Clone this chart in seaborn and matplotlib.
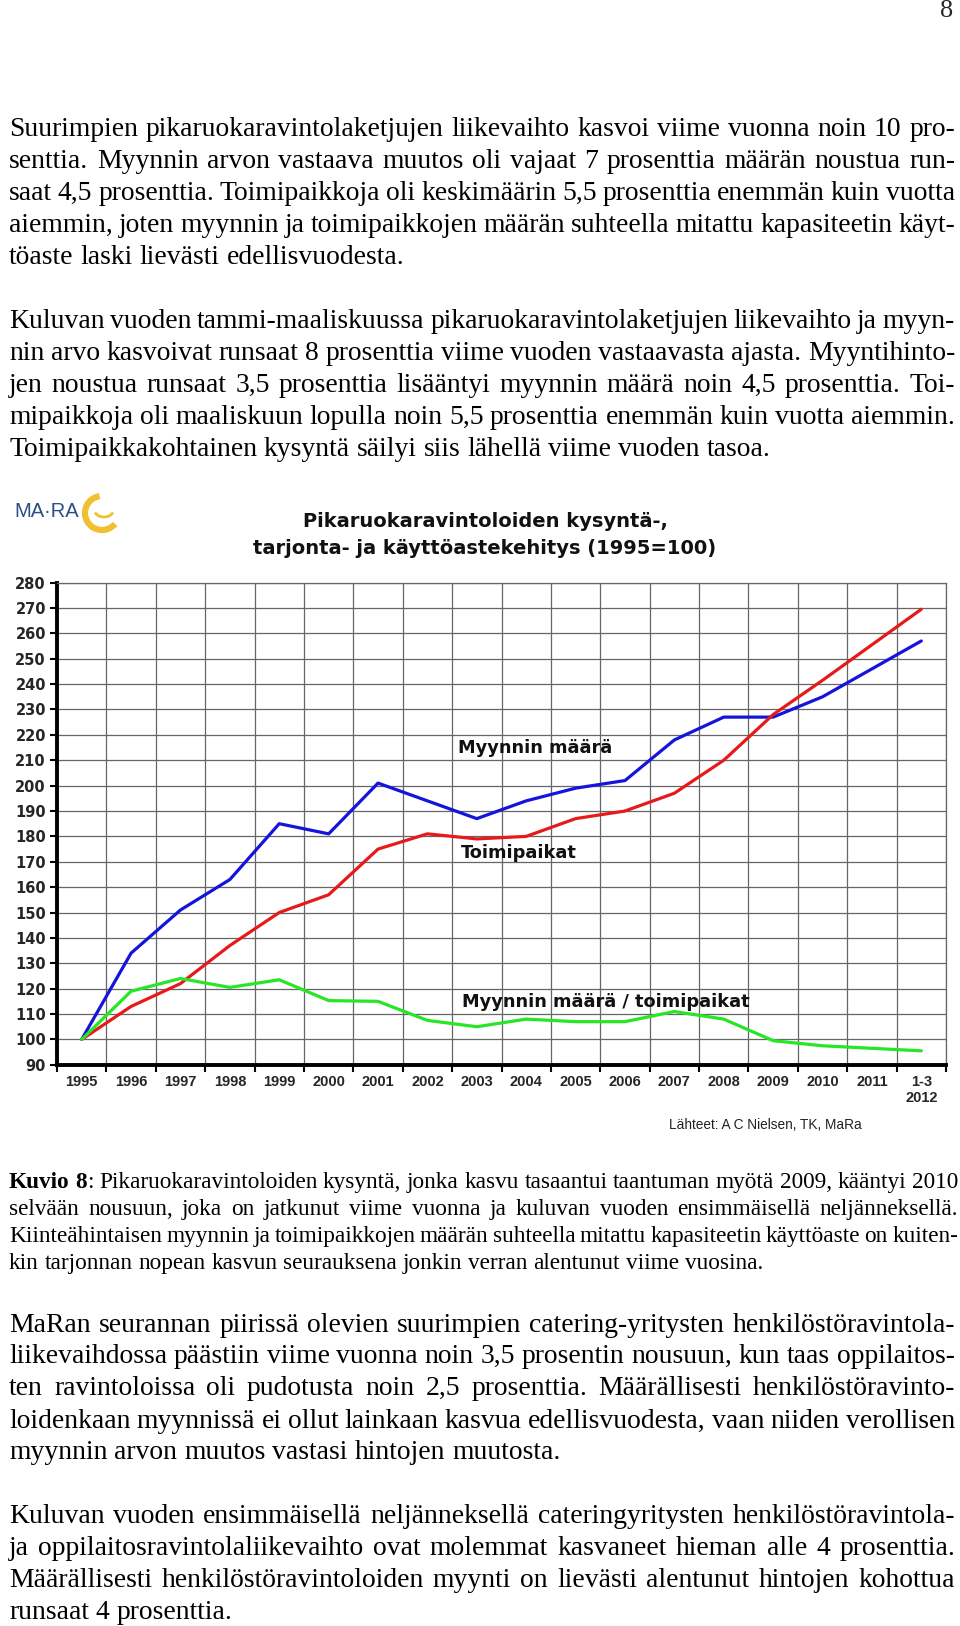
import matplotlib
matplotlib.use("Agg")
import matplotlib.pyplot as plt
from matplotlib import font_manager
from matplotlib.patches import Arc
import pandas as pd
import seaborn as sns

# chart data (1995 = 100)
periods = ["1995", "1996", "1997", "1998", "1999", "2000", "2001", "2002", "2003",
           "2004", "2005", "2006", "2007", "2008", "2009", "2010", "2011", "1-3\n2012"]
myynnin_maara = [100, 134, 151, 163, 185, 181, 201, 194, 187, 194, 199, 202, 218, 227, 227, 235, 246, 257]
toimipaikat = [100, 113, 122, 137, 150, 157, 175, 181, 179, 180, 187, 190, 197, 210, 228, 241.5, 255.5, 269.5]
maara_per_toimipaikka = [100, 119, 124, 120.5, 123.5, 115.3, 115, 107.5, 105, 108, 107, 107, 111, 108, 99.5, 97.5, 96.5, 95.5]
series_names = ["Myynnin määrä", "Toimipaikat", "Myynnin määrä / toimipaikat"]
series_colors = ["#1414dc", "#e61a1a", "#26e626"]
y_ticks = list(range(90, 281, 10))

title_lines = ["Pikaruokaravintoloiden kysyntä-,", "tarjonta- ja käyttöastekehitys (1995=100)"]
source_text = "Lähteet: A C Nielsen, TK, MaRa"

par1 = [
    "Suurimpien pikaruokaravintolaketjujen liikevaihto kasvoi viime vuonna noin 10 pro-",
    "senttia. Myynnin arvon vastaava muutos oli vajaat 7 prosenttia määrän noustua run-",
    "saat 4,5 prosenttia. Toimipaikkoja oli keskimäärin 5,5 prosenttia enemmän kuin vuotta",
    "aiemmin, joten myynnin ja toimipaikkojen määrän suhteella mitattu kapasiteetin käyt-",
    "töaste laski lievästi edellisvuodesta.",
]
par2 = [
    "Kuluvan vuoden tammi-maaliskuussa pikaruokaravintolaketjujen liikevaihto ja myyn-",
    "nin arvo kasvoivat runsaat 8 prosenttia viime vuoden vastaavasta ajasta. Myyntihinto-",
    "jen noustua runsaat 3,5 prosenttia lisääntyi myynnin määrä noin 4,5 prosenttia. Toi-",
    "mipaikkoja oli maaliskuun lopulla noin 5,5 prosenttia enemmän kuin vuotta aiemmin.",
    "Toimipaikkakohtainen kysyntä säilyi siis lähellä viime vuoden tasoa.",
]
caption = [
    "*Kuvio 8*: Pikaruokaravintoloiden kysyntä, jonka kasvu tasaantui taantuman myötä 2009, kääntyi 2010",
    "selvään nousuun, joka on jatkunut viime vuonna ja kuluvan vuoden ensimmäisellä neljänneksellä.",
    "Kiinteähintaisen myynnin ja toimipaikkojen määrän suhteella mitattu kapasiteetin käyttöaste on kuiten-",
    "kin tarjonnan nopean kasvun seurauksena jonkin verran alentunut viime vuosina.",
]
par3 = [
    "MaRan seurannan piirissä olevien suurimpien catering-yritysten henkilöstöravintola-",
    "liikevaihdossa päästiin viime vuonna noin 3,5 prosentin nousuun, kun taas oppilaitos-",
    "ten ravintoloissa oli pudotusta noin 2,5 prosenttia. Määrällisesti henkilöstöravinto-",
    "loidenkaan myynnissä ei ollut lainkaan kasvua edellisvuodesta, vaan niiden verollisen",
    "myynnin arvon muutos vastasi hintojen muutosta.",
]
par4 = [
    "Kuluvan vuoden ensimmäisellä neljänneksellä cateringyritysten henkilöstöravintola-",
    "ja oppilaitosravintolaliikevaihto ovat molemmat kasvaneet hieman alle 4 prosenttia.",
    "Määrällisesti henkilöstöravintoloiden myynti on lievästi alentunut hintojen kohottua",
    "runsaat 4 prosenttia.",
]


def has_font(name):
    try:
        font_manager.findfont(name, fallback_to_default=False)
        return True
    except Exception:
        return False


SERIF = "Liberation Serif"
SANS = "DejaVu Sans"
NARROW = "Liberation Sans Narrow" if has_font("Liberation Sans Narrow") else "Liberation Sans"
narrow_fs = 12.5 if NARROW.endswith("Narrow") else 10.5

sns.set_theme(style="white")

fig = plt.figure(figsize=(9.6, 16.26), dpi=100)
page = fig.add_axes([0, 0, 1, 1])
page.set_xlim(0, 960)
page.set_ylim(1626, 0)
page.axis("off")
renderer = fig.canvas.get_renderer()


def text_w(s, fs, weight="normal"):
    t = page.text(0, 0, s, fontsize=fs, family=SERIF, fontweight=weight)
    w = t.get_window_extent(renderer).width
    t.remove()
    return w


def parse(line):
    # '*' toggles bold
    words, bold = [], False
    for w in line.split():
        segs = []
        for i, p in enumerate(w.split("*")):
            if i > 0:
                bold = not bold
            if p:
                segs.append((p, "bold" if bold else "normal"))
        words.append(segs)
    return words


def fit_size(lines, width, base=16):
    sp = text_w("x x", base) - text_w("xx", base)
    ratios = []
    for line in lines[:-1]:
        words = parse(line)
        nat = sum(text_w(s, base, wt) for segs in words for s, wt in segs)
        ratios.append(width / (nat + 0.8 * sp * (len(words) - 1)))
    return base * min(ratios)


def draw_par(lines, centers, x0, x1, fs):
    sp = text_w("x x", fs) - text_w("xx", fs)
    off = 0.3 * fs * 100 / 72
    for k, (line, yc) in enumerate(zip(lines, centers)):
        words = parse(line)
        widths = [[text_w(s, fs, wt) for s, wt in segs] for segs in words]
        total = sum(sum(w) for w in widths)
        if k == len(lines) - 1:
            gap = sp
        else:
            gap = (x1 - x0 - total) / (len(words) - 1)
        x = x0
        for segs, ws in zip(words, widths):
            for (s, wt), w in zip(segs, ws):
                page.text(x, yc + off, s, fontsize=fs, family=SERIF, fontweight=wt,
                          va="baseline", ha="left", color="black")
                x += w
            x += gap


body_fs = min(fit_size(p, 946) for p in [par1, par2, par3, par4])
cap_fs = fit_size(caption, 949)

page.text(953, 11, "8", fontsize=body_fs * 0.95, family=SERIF, ha="right", va="center")
draw_par(par1, [127.5, 159.7, 191.8, 223.9, 256.1], 9, 955, body_fs)
draw_par(par2, [319.3, 351.4, 383.6, 415.7, 447.9], 9, 955, body_fs)
draw_par(caption, [1181, 1208, 1235, 1262], 9, 958, cap_fs)
draw_par(par3, [1323.9, 1355, 1387, 1419.3, 1450.4], 9, 955, body_fs)
draw_par(par4, [1514.6, 1546.8, 1578.9, 1611], 9, 955, body_fs)

# logo and chart title
page.text(14, 511, "MA·RA", fontsize=14.5, family="Liberation Sans", color="#2d4f86",
          va="center", ha="left")
page.add_patch(Arc((102, 513), 34, 34, theta1=40, theta2=262, lw=4.5, color="#f0c030"))
page.add_patch(Arc((104, 510), 19, 14, theta1=15, theta2=165, lw=2, color="#f0c030"))
page.text(485, 521, title_lines[0], fontsize=14, family=SANS, fontweight="bold",
          ha="center", va="center", color="#111111")
page.text(485, 548, title_lines[1], fontsize=14, family=SANS, fontweight="bold",
          ha="center", va="center", color="#111111")
page.text(669, 1125, source_text, fontsize=9.8 if NARROW == "Liberation Sans" else 11,
          family=NARROW, ha="left", va="center", color="#222222")

# chart
ax = fig.add_axes([57 / 960, 1 - 1064.8 / 1626, 889 / 960, 482.2 / 1626])
df = pd.DataFrame({
    "idx": list(range(len(periods))) * 3,
    "value": myynnin_maara + toimipaikat + maara_per_toimipaikka,
    "series": [n for n in series_names for _ in periods],
})
sns.lineplot(data=df, x="idx", y="value", hue="series", hue_order=series_names,
             palette=series_colors, linewidth=2.3, legend=False, sort=False, ax=ax)

ax.set_xlim(-0.5, len(periods) - 0.5)
ax.set_ylim(90, 280)
ax.set_xticks([i - 0.5 for i in range(len(periods) + 1)])
ax.set_xticklabels([])
ax.set_xticks(range(len(periods)), minor=True)
ax.set_xticklabels(periods, minor=True, fontsize=narrow_fs, family=NARROW, fontweight="bold")
ax.set_yticks(y_ticks)
ax.set_yticklabels([str(v) for v in y_ticks], fontsize=10.5, family=SANS, fontweight="bold")
ax.tick_params(axis="x", which="major", direction="out", length=5, width=1.5, color="black",
               bottom=True)
ax.tick_params(axis="x", which="minor", length=0, pad=7, bottom=True)
ax.tick_params(axis="y", direction="out", length=5, width=1.5, color="black", pad=3, left=True)
ax.grid(True, which="major", color="#666666", linewidth=0.9)
ax.set_axisbelow(True)
ax.set_xlabel("")
ax.set_ylabel("")
for side in ["left", "bottom"]:
    ax.spines[side].set_linewidth(2.8)
    ax.spines[side].set_color("black")
for side in ["top", "right"]:
    ax.spines[side].set_linewidth(0.9)
    ax.spines[side].set_color("#666666")

ax.text(7.62, 215, series_names[0], fontsize=12.8, family=SANS, fontweight="bold",
        ha="left", va="center", color="#111111")
ax.text(7.68, 173.5, series_names[1], fontsize=12.8, family=SANS, fontweight="bold",
        ha="left", va="center", color="#111111")
ax.text(7.7, 114.8, series_names[2], fontsize=12.8, family=SANS, fontweight="bold",
        ha="left", va="center", color="#111111")

fig.savefig("out.png", dpi=100)
